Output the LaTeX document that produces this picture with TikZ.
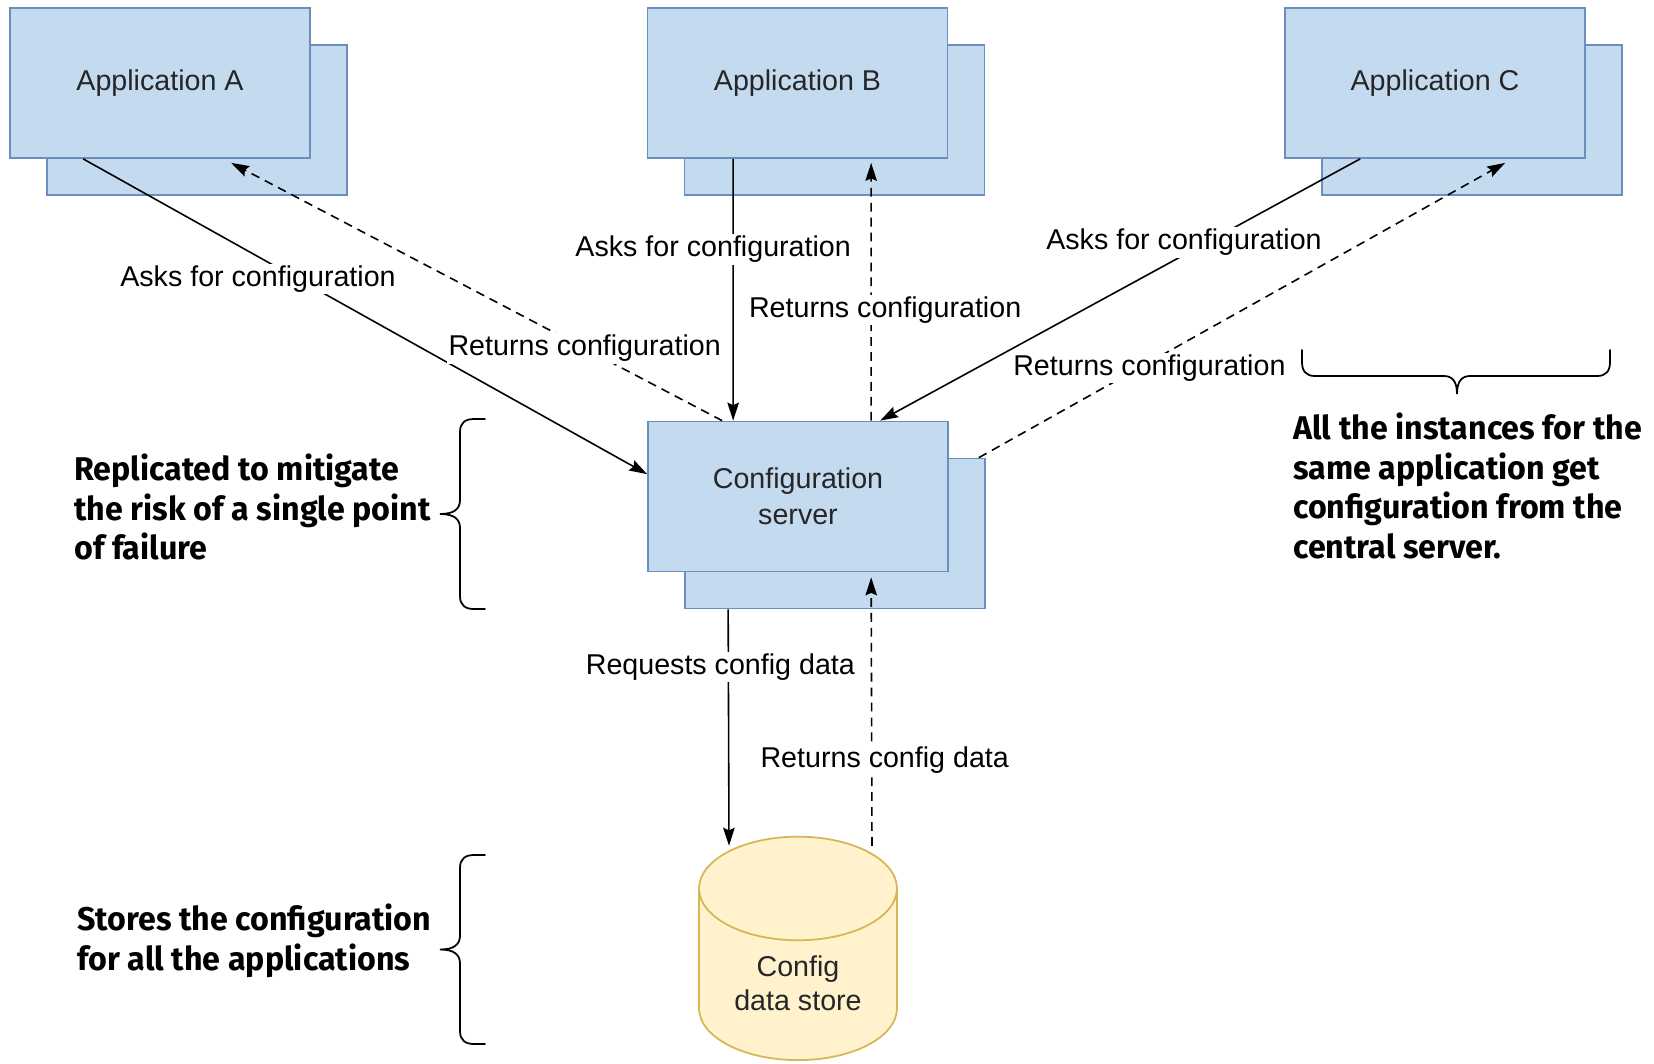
\documentclass[tikz,border=0pt]{standalone}
\usepackage{fontspec}
\setmainfont{Liberation Sans}
\newfontfamily\notefont[FakeStretch=0.98]{Fira Sans}
\usepackage{tikz}
\usetikzlibrary{positioning,arrows.meta,shapes.geometric,calc}
\definecolor{boxfill}{HTML}{C4DAEF}
\definecolor{boxline}{HTML}{6C8EBF}
\definecolor{dbfill}{HTML}{FFF2CC}
\definecolor{dbline}{HTML}{D6B656}

\begin{document}
\begin{tikzpicture}[x=0.02cm, y=-0.02cm,
  box/.style={rectangle, fill=boxfill, draw=boxline, line width=1pt, minimum width=6cm, minimum height=3cm, align=center, text=black!85, font=\fontsize{16.3}{20.5}\selectfont},
  db/.style={cylinder, shape border rotate=90, aspect=0.745, fill=dbfill, draw=dbline, line width=1pt, minimum width=3.96cm, minimum height=4.47cm, align=center, text=black!85, font=\fontsize{16.3}{19.5}\selectfont},
  ask/.style={-{Stealth[length=3.6mm, width=2.3mm, inset=0.5mm]}, line width=0.9pt},
  ret/.style={ask, dash pattern=on 5pt off 3.5pt},
  lbl/.style={fill=white, inner sep=1pt, font=\fontsize{16.3}{20}\selectfont},
  note/.style={anchor=west, align=left, inner sep=0pt, font=\notefont\bfseries\fontsize{18.7}{22.6}\selectfont},
  brc/.style={line width=1pt, line cap=round}]
  \useasboundingbox (0,0) rectangle (1654,1063);

  % stacked copies behind each box
  \foreach \n/\x/\y in {a/160/83, b/797.5/83, c/1435/83, cfg/798/496.5}
    \node[box] (\n-sh) at (\x+37,\y+37) {};
  \node[box] (a) at (160,83) {Application A};
  \node[box] (b) at (797.5,83) {Application B};
  \node[box] (c) at (1435,83) {Application C};
  \node[box] (cfg) at (798,496.5) {Configuration\\server};
  \node[db] (store) at (798,983.5) {Config\\data store};

  % requests and replies
  \draw[ask] ($(a.south west)+(74,0)$) -- node[lbl, pos=.31, yshift=-.44cm] {Asks for configuration} ($(cfg.north west)+(0,53.5)$);
  \draw[ret] ($(cfg.north west)+(75,0)$) -- node[lbl, pos=.28] {Returns configuration} ($(a.south west)+(222,4)$);
  \draw[ask] ($(b.south west)+(86.5,0)$) -- node[lbl, pos=.346, xshift=-.4cm] {Asks for configuration} ($(cfg.north west)+(86,0)$);
  \draw[ret] ($(cfg.north west)+(224,0)$) -- node[lbl, pos=.43, xshift=.28cm] {Returns configuration} ($(b.south west)+(224.5,4)$);
  \draw[ask] ($(c.south west)+(76,0)$) -- node[lbl, pos=.367, yshift=.25cm] {Asks for configuration} ($(cfg.north west)+(233,0)$);
  \draw[ret] ($(cfg-sh.north east)+(-7,0)$) -- node[lbl, pos=.324, yshift=-.11cm] {Returns configuration} ($(c.south west)+(221,4)$);
  \draw[ask] ($(cfg-sh.south west)+(44,0)$) -- node[lbl, pos=.243, xshift=-.16cm] {Requests config data} ($(store.north)+(-69,10)$);
  \draw[ret] ($(store.north)+(74,10)$) -- node[lbl, pos=.318, xshift=.26cm] {Returns config data} ($(cfg.south west)+(224,5)$);

  % notes and braces
  \node[note] (n1) at (74,507) {Replicated to mitigate\\the risk of a single point\\of failure};
  \node[note] (n2) at (77,941) {Stores the configuration\\for all the applications};
  \node[note] (n3) at (1293,486) {All the instances for the\\same application get\\configuration from the\\central server.};
  \foreach \yt/\yb in {419/609, 855/1044}{
    \pgfmathsetmacro{\ym}{(\yt+\yb)/2}
    \draw[brc] (485,\yt) -- (474,\yt) .. controls (465,\yt) and (460,\yt+4) .. (460,\yt+13) -- (460,\ym-14) .. controls (460,\ym-5) and (454,\ym) .. (440,\ym) .. controls (454,\ym) and (460,\ym+5) .. (460,\ym+14) -- (460,\yb-13) .. controls (460,\yb-4) and (465,\yb) .. (474,\yb) -- (485,\yb);
  }
  \draw[brc] (1302,350) -- (1302,362) .. controls (1302,371) and (1306,376) .. (1315,376) -- (1444,376) .. controls (1452,376) and (1457,381) .. (1457,394) .. controls (1457,381) and (1462,376) .. (1470,376) -- (1597,376) .. controls (1606,376) and (1610,371) .. (1610,362) -- (1610,350);
\end{tikzpicture}
\end{document}
